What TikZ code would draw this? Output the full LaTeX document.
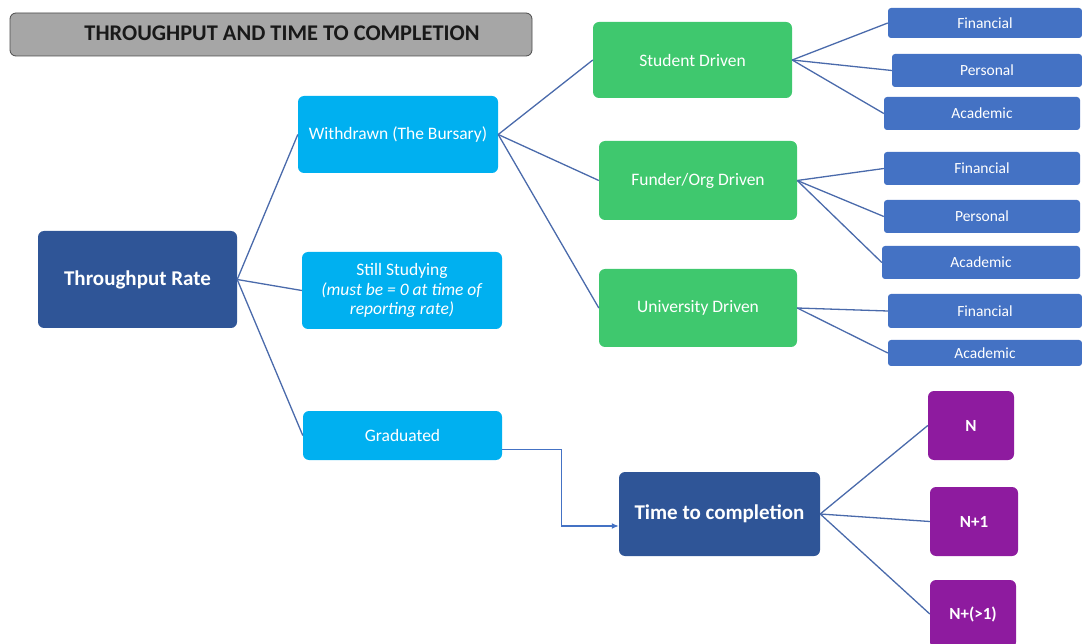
\documentclass[tikz,border=0pt]{standalone}
\usepackage{fontspec}
\setmainfont{Carlito}
\usetikzlibrary{arrows.meta}
\definecolor{darkblu}{HTML}{2F5597}
\definecolor{cyanb}{HTML}{00B0F0}
\definecolor{greenb}{HTML}{3FC86E}
\definecolor{smallb}{HTML}{4472C4}
\definecolor{purpb}{HTML}{8E1B9F}
\definecolor{linec}{HTML}{4A6AAB}
\definecolor{titlefill}{HTML}{A6A6A6}
\tikzset{
  box/.style={rectangle, rounded corners=6pt, inner sep=2pt, align=center, text=white},
  bigbox/.style={box, fill=darkblu, font=\fontsize{21}{25}\selectfont\bfseries},
  midbox/.style={box, fill=cyanb, font=\fontsize{17.5}{19.5}\selectfont},
  grbox/.style={box, fill=greenb, font=\fontsize{17.5}{20}\selectfont},
  smbox/.style={box, rounded corners=3pt, fill=smallb, font=\fontsize{15.5}{18}\selectfont},
  pubox/.style={box, fill=purpb, font=\fontsize{17}{20}\selectfont\bfseries},
  conn/.style={draw=linec, line width=1.3pt},
  elbow/.style={draw=smallb, line width=1.3pt, -{Latex[length=7pt,width=6pt]}}
}
\begin{document}
\begin{tikzpicture}[x=1pt,y=-1pt]
\useasboundingbox (0,0) rectangle (1082,644);
% title
\node[rectangle, rounded corners=6pt, fill=titlefill, draw=black!70, line width=0.8pt,
  minimum width=522pt, minimum height=43pt] (title) at (271,34.5) {};
\node[font=\fontsize{22.4}{26}\selectfont\bfseries, text=black!90, inner sep=0pt]
  (titletext) at (282,33.5) {THROUGHPUT AND TIME TO COMPLETION};
% main nodes
\node[bigbox, minimum width=199pt, minimum height=97pt] (tr) at (137.5,279.5) {Throughput Rate};
\node[midbox, minimum width=200pt, minimum height=77pt] (wd) at (398,134.5) {Withdrawn (The Bursary)};
\node[midbox, minimum width=200pt, minimum height=77pt] (ss) at (402,290.5)
  {Still Studying\\ \textit{(must be = 0 at time of}\\ \textit{reporting rate)}};
\node[midbox, minimum width=199pt, minimum height=49pt] (gr) at (402.5,435.5) {Graduated};
\node[grbox, minimum width=199pt, minimum height=76pt] (sd) at (692.5,60) {Student Driven};
\node[grbox, minimum width=198pt, minimum height=79pt] (fo) at (698,180.5) {Funder/Org Driven};
\node[grbox, minimum width=198pt, minimum height=78pt] (ud) at (698,308) {University Driven};
% small boxes
\node[smbox, minimum width=194pt, minimum height=30pt] (f1) at (985,23) {Financial};
\node[smbox, minimum width=190pt, minimum height=33pt] (p1) at (987,70.5) {Personal};
\node[smbox, minimum width=196pt, minimum height=33pt] (a1) at (982,113.5) {Academic};
\node[smbox, minimum width=196pt, minimum height=33pt] (f2) at (982,168.5) {Financial};
\node[smbox, minimum width=196pt, minimum height=33pt] (p2) at (982,216.5) {Personal};
\node[smbox, minimum width=198pt, minimum height=33pt] (a2) at (981,262.5) {Academic};
\node[smbox, minimum width=194pt, minimum height=34pt] (f3) at (985,311) {Financial};
\node[smbox, minimum width=194pt, minimum height=26pt] (a3) at (985,353) {Academic};
% time to completion
\node[bigbox, minimum width=201pt, minimum height=84pt] (tc) at (719.5,514) {Time to completion};
\node[pubox, minimum width=86pt, minimum height=69pt] (n0) at (971,425.5) {N};
\node[pubox, minimum width=88pt, minimum height=69pt] (n1) at (974,521.5) {N+1};
\node[pubox, minimum width=86pt, minimum height=68pt] (n2) at (973,614) {N+(>1)};
% connectors
\foreach \t in {wd,ss,gr} \draw[conn] (tr.east) -- (\t.west);
\foreach \t in {sd,fo,ud} \draw[conn] (wd.east) -- (\t.west);
\foreach \t in {f1,p1,a1} \draw[conn] (sd.east) -- (\t.west);
\foreach \t in {f2,p2,a2} \draw[conn] (fo.east) -- (\t.west);
\foreach \t in {f3,a3} \draw[conn] (ud.east) -- (\t.west);
\foreach \t in {n0,n1,n2} \draw[conn] (tc.east) -- (\t.west);
\draw[elbow] ([yshift=-14pt]gr.east) -- ++(59,0) |- ([yshift=-12pt]tc.west);
\end{tikzpicture}
\end{document}
